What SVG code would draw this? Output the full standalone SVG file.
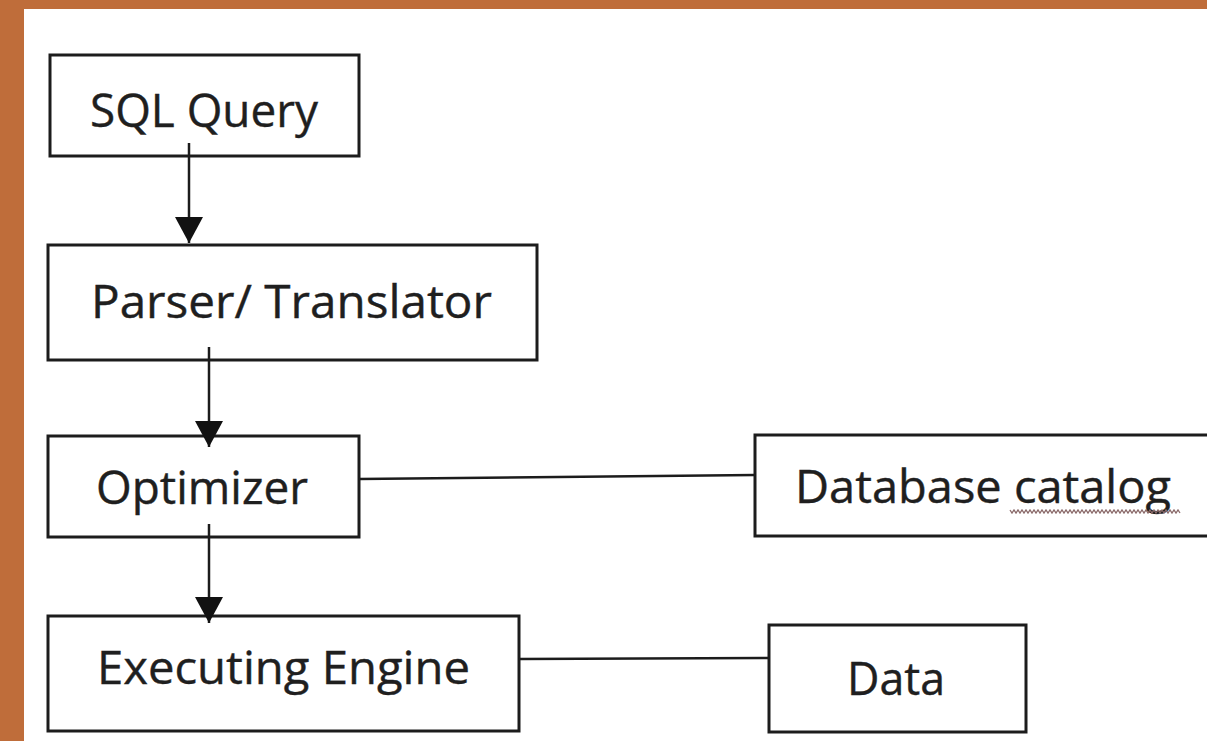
<svg xmlns="http://www.w3.org/2000/svg" width="1207" height="741" viewBox="0 0 1207 741">
  <style>
    .box { fill: #ffffff; stroke: #1c1c1c; stroke-width: 3; }
    .label { font-family: "Open Sans", "Noto Sans", "Liberation Sans", sans-serif; font-size: 45px; fill: #1f1f1f; stroke: #1f1f1f; stroke-width: 0.4; }
    .link { stroke: #1c1c1c; stroke-width: 2.5; fill: none; }
    .squiggle { stroke: #8a6a6a; stroke-width: 1.3; fill: none; }
  </style>
  <defs>
    <marker id="arrowhead" markerUnits="userSpaceOnUse" markerWidth="30" markerHeight="30" refX="26" refY="14" orient="auto">
      <path d="M0,0 L26,14 L0,28 Z" fill="#111111"/>
    </marker>
  </defs>

  <!-- frame -->
  <rect x="0" y="0" width="1207" height="741" fill="#BF6D3A"/>
  <rect x="24" y="9" width="1183" height="732" fill="#ffffff"/>

  <g id="node-sql-query">
    <rect class="box" x="50" y="55" width="309" height="101"/>
    <text class="label" x="90" y="127" textLength="228" lengthAdjust="spacingAndGlyphs">SQL Query</text>
  </g>

  <g id="node-parser">
    <rect class="box" x="48" y="245" width="489" height="115"/>
    <text class="label" x="91" y="318" textLength="401" lengthAdjust="spacingAndGlyphs">Parser/ Translator</text>
  </g>

  <g id="node-optimizer">
    <rect class="box" x="48" y="436" width="311" height="101"/>
    <text class="label" x="96" y="504" textLength="212" lengthAdjust="spacingAndGlyphs">Optimizer</text>
  </g>

  <g id="node-executing-engine">
    <rect class="box" x="48" y="616" width="471" height="115"/>
    <text class="label" x="97" y="684" textLength="373" lengthAdjust="spacingAndGlyphs">Executing Engine</text>
  </g>

  <g id="node-database-catalog">
    <rect class="box" x="755" y="435" width="470" height="101"/>
    <text class="label" x="795" y="503" textLength="376" lengthAdjust="spacingAndGlyphs">Database catalog</text>
    <!-- spell-check wave under "catalog" -->
    <path class="squiggle" d="M1010,510 l2,3 l2,-3 l2,3 l2,-3 l2,3 l2,-3 l2,3 l2,-3 l2,3 l2,-3 l2,3 l2,-3 l2,3 l2,-3 l2,3 l2,-3 l2,3 l2,-3 l2,3 l2,-3 l2,3 l2,-3 l2,3 l2,-3 l2,3 l2,-3 l2,3 l2,-3 l2,3 l2,-3 l2,3 l2,-3 l2,3 l2,-3 l2,3 l2,-3 l2,3 l2,-3 l2,3 l2,-3 l2,3 l2,-3 l2,3 l2,-3 l2,3 l2,-3 l2,3 l2,-3 l2,3 l2,-3 l2,3 l2,-3 l2,3 l2,-3 l2,3 l2,-3 l2,3 l2,-3 l2,3 l2,-3 l2,3 l2,-3 l2,3 l2,-3 l2,3 l2,-3 l2,3 l2,-3 l2,3 l2,-3 l2,3 l2,-3 l2,3 l2,-3 l2,3 l2,-3 l2,3 l2,-3 l2,3 l2,-3 l2,3 l2,-3 l2,3 l2,-3 l2,3"/>
  </g>

  <g id="node-data">
    <rect class="box" x="769" y="625" width="257" height="107"/>
    <text class="label" x="847" y="695" textLength="98" lengthAdjust="spacingAndGlyphs">Data</text>
  </g>

  <g id="connectors">
    <line class="link" x1="189" y1="143" x2="189" y2="243" marker-end="url(#arrowhead)"/>
    <line class="link" x1="209" y1="347" x2="209" y2="447" marker-end="url(#arrowhead)"/>
    <line class="link" x1="209" y1="524" x2="209" y2="623" marker-end="url(#arrowhead)"/>
    <line class="link" x1="359" y1="479" x2="755" y2="475"/>
    <line class="link" x1="519" y1="659" x2="769" y2="658"/>
  </g>
</svg>
